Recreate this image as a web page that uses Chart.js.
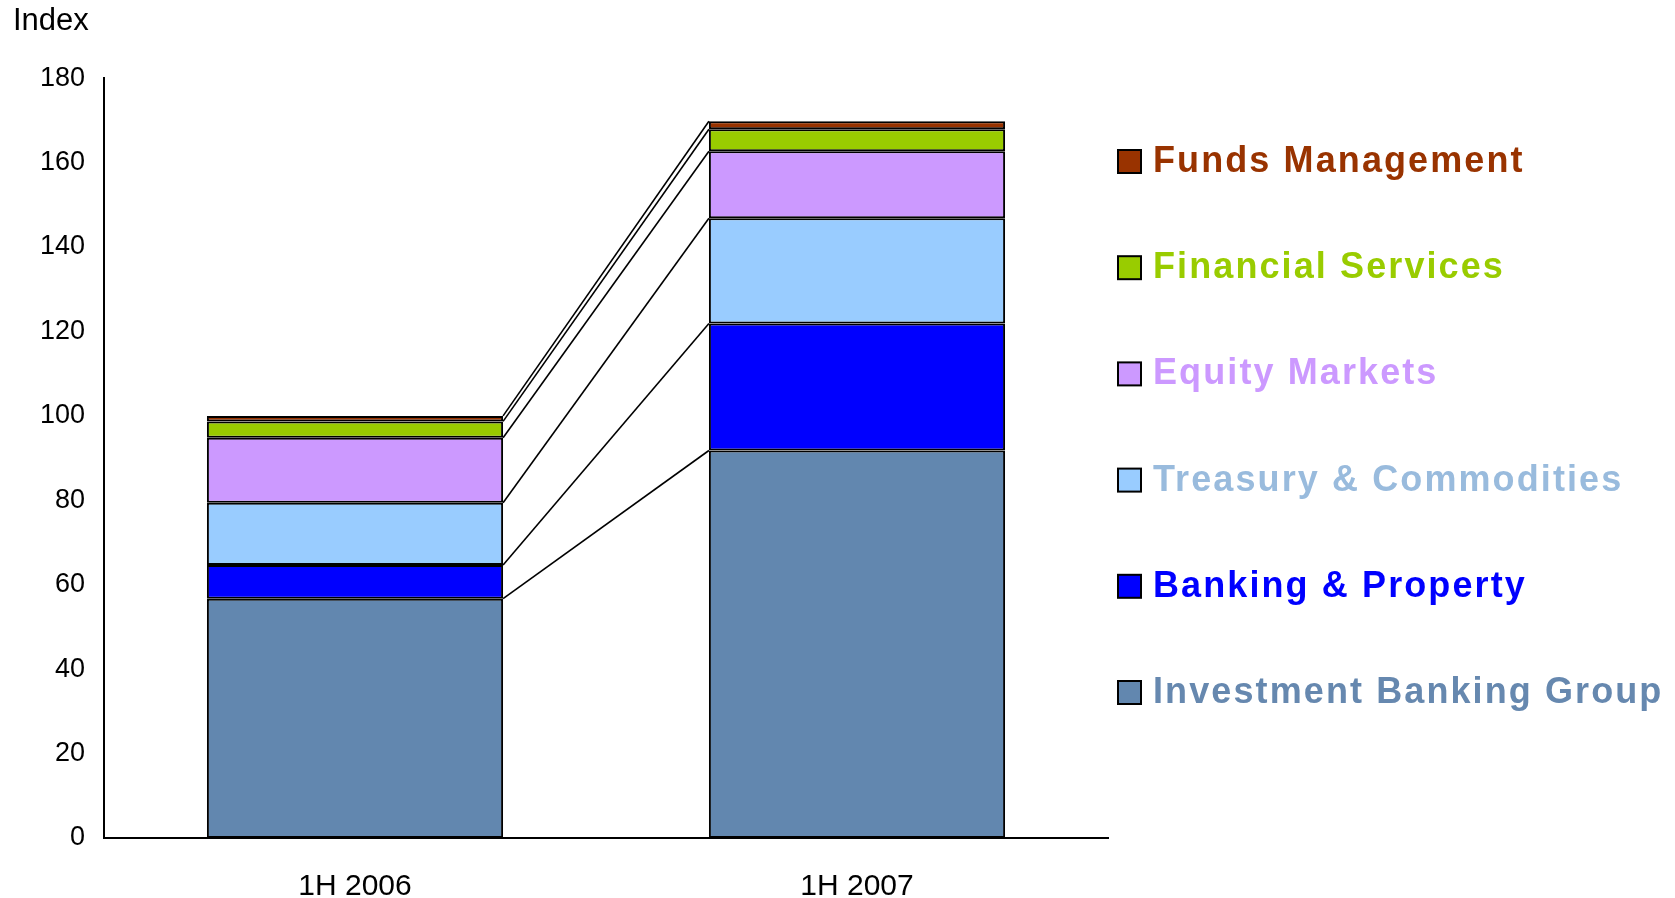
<!DOCTYPE html>
<html>
<head>
<meta charset="utf-8">
<script src="https://cdn.jsdelivr.net/npm/chart.js@4.4.0/dist/chart.umd.min.js"></script>
<style>
  html, body { margin: 0; padding: 0; background: #fff; }
  #wrap { width: 1675px; height: 898px; }
</style>
</head>
<body>
<div id="wrap"><canvas id="divisionChart"></canvas></div>
<script>
// categories and series (bottom of stack first)
const periods = ['1H 2006', '1H 2007'];
const investmentBanking = [56.7, 91.8];
const bankingProperty = [8.0, 30.1];
const treasuryCommodities = [14.7, 24.9];
const equityMarkets = [15.4, 15.9];
const financialServices = [3.9, 5.2];
const fundsManagement = [1.3, 1.9];
const yTicks = [0, 20, 40, 60, 80, 100, 120, 140, 160, 180];

const series = [
  { label: 'Investment Banking Group', data: investmentBanking, fill: '#6287AF', text: '#6688AF' },
  { label: 'Banking & Property', data: bankingProperty, fill: '#0000FF', text: '#0000FF' },
  { label: 'Treasury & Commodities', data: treasuryCommodities, fill: '#99CCFF', text: '#99BBDD' },
  { label: 'Equity Markets', data: equityMarkets, fill: '#CC99FF', text: '#CC99FF' },
  { label: 'Financial Services', data: financialServices, fill: '#99CC00', text: '#99CC00' },
  { label: 'Funds Management', data: fundsManagement, fill: '#993300', text: '#993300' }
];

// lines joining the segment tops of the two bars
const connectorPlugin = {
  id: 'connectors',
  afterDatasetsDraw(chart) {
    const ctx = chart.ctx;
    ctx.save();
    ctx.strokeStyle = '#000';
    ctx.lineWidth = 1.6;
    chart.data.datasets.forEach((ds, i) => {
      const bars = chart.getDatasetMeta(i).data;
      for (let j = 0; j < bars.length - 1; j++) {
        const a = bars[j], b = bars[j + 1];
        ctx.beginPath();
        ctx.moveTo(a.x + a.width / 2, a.y);
        ctx.lineTo(b.x - b.width / 2, b.y);
        ctx.stroke();
      }
    });
    ctx.restore();
  }
};

// legend on the right, top item = top of stack
const sideLegend = {
  id: 'sideLegend',
  afterDraw(chart) {
    const ctx = chart.ctx;
    const x = chart.chartArea.right + 10;
    ctx.save();
    ctx.font = 'bold 36px "Liberation Sans", Arial, sans-serif';
    ctx.letterSpacing = '2.1px';
    ctx.textBaseline = 'middle';
    const items = series.slice().reverse();
    items.forEach((s, k) => {
      const y = 161 + k * 106.2;
      ctx.fillStyle = s.fill;
      ctx.fillRect(x, y - 11, 23, 23);
      ctx.strokeStyle = '#000';
      ctx.lineWidth = 2;
      ctx.strokeRect(x, y - 11, 23, 23);
      ctx.fillStyle = s.text;
      ctx.fillText(s.label, x + 35, y + 1);
    });
    ctx.restore();
  }
};

new Chart(document.getElementById('divisionChart'), {
  type: 'bar',
  data: {
    labels: periods,
    datasets: series.map(s => ({
      label: s.label,
      data: s.data,
      backgroundColor: s.fill,
      borderColor: '#000',
      borderWidth: 2,
      borderSkipped: false,
      barPercentage: 0.59,
      categoryPercentage: 1
    }))
  },
  options: {
    responsive: true,
    maintainAspectRatio: false,
    animation: false,
    layout: { padding: { left: 13, right: 567, top: 0, bottom: 0 } },
    plugins: {
      legend: { display: false },
      tooltip: { enabled: false },
      title: {
        display: true,
        text: 'Index',
        align: 'start',
        color: '#000',
        font: { family: '"Liberation Sans", Arial, sans-serif', size: 31, weight: 'normal' },
        padding: { top: 3, bottom: 38 }
      }
    },
    scales: {
      x: {
        stacked: true,
        grid: { display: false },
        border: { color: '#000', width: 2 },
        ticks: {
          color: '#000',
          padding: 23,
          font: { family: '"Liberation Sans", Arial, sans-serif', size: 30 }
        },
        afterFit(scale) { scale.height = 60; }
      },
      y: {
        stacked: true,
        min: 0,
        max: 180,
        grid: { display: false, drawTicks: false },
        border: { color: '#000', width: 2 },
        afterBuildTicks(scale) { scale.ticks = yTicks.map(v => ({ value: v })); },
        ticks: {
          color: '#000',
          padding: 19,
          font: { family: '"Liberation Sans", Arial, sans-serif', size: 27 }
        },
        afterFit(scale) { scale.width = 91; }
      }
    }
  },
  plugins: [connectorPlugin, sideLegend]
});
</script>
</body>
</html>
